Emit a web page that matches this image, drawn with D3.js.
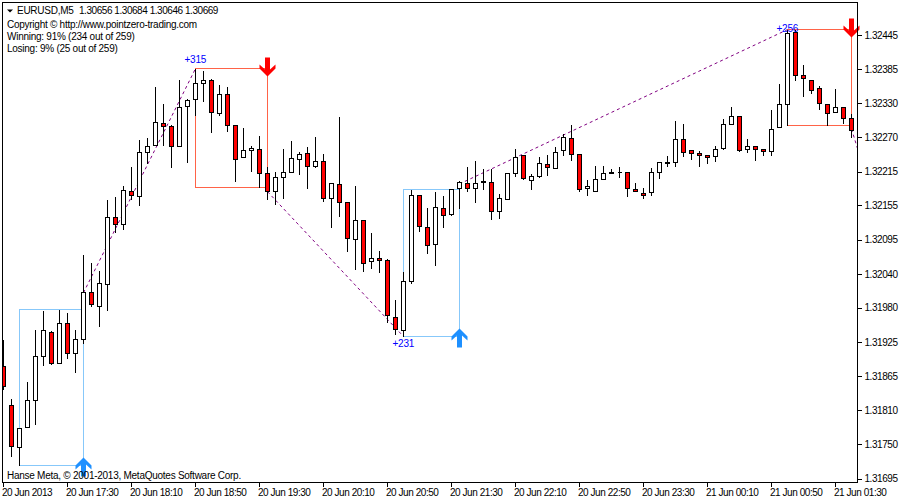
<!DOCTYPE html>
<html>
<head>
<meta charset="utf-8">
<script src="https://cdn.jsdelivr.net/npm/d3@7"></script>
<style>
  html, body { margin: 0; padding: 0; background: #fff; }
  svg { display: block; }
  text { font-family: "Liberation Sans", Arial, sans-serif; font-size: 10px; fill: #000; letter-spacing: -0.26px; }
  .tick text, .quote { letter-spacing: -0.45px; }
</style>
</head>
<body>
<div id="chart"></div>
<script>
// EURUSD M5 bars, one per 5 minutes
const opens = [
  1.31885,1.31819,1.31748,1.31782,1.31828,1.31902,1.31943,1.31890,1.31958,1.31907,
  1.31931,1.32010,1.31987,1.32024,1.32137,1.32125,1.32181,1.32173,1.32247,1.32259,
  1.32296,1.32291,1.32257,1.32325,1.32337,1.32364,1.32369,1.32313,1.32345,1.32293,
  1.32239,1.32251,1.32252,1.32212,1.32181,1.32205,1.32213,1.32235,1.32245,1.32223,
  1.32232,1.32169,1.32193,1.32163,1.32100,1.32132,1.32063,1.32068,1.32065,1.31968,
  1.31946,1.32029,1.32174,1.32120,1.32092,1.32152,1.32142,1.32186,1.32195,1.32186,
  1.32198,1.32196,1.32147,1.32168,1.32212,1.32242,1.32200,1.32206,1.32227,1.32220,
  1.32251,1.32271,1.32244,1.32186,1.32181,1.32201,1.32213,1.32213,1.32213,1.32185,
  1.32178,1.32180,1.32213,1.32230,1.32230,1.32269,1.32251,1.32245,1.32242,1.32240,
  1.32254,1.32294,1.32308,1.32252,1.32257,1.32252,1.32249,1.32289,1.32328,1.32450,
  1.32377,1.32369,1.32355,1.32328,1.32315,1.32323,1.32305
];
const closes = [
  1.31851,1.31750,1.31780,1.31828,1.31902,1.31946,1.31890,1.31958,1.31907,1.31931,
  1.32010,1.31990,1.32026,1.32137,1.32125,1.32183,1.32174,1.32247,1.32257,1.32298,
  1.32291,1.32257,1.32323,1.32335,1.32364,1.32369,1.32315,1.32345,1.32293,1.32235,
  1.32251,1.32254,1.32212,1.32181,1.32205,1.32213,1.32237,1.32244,1.32223,1.32232,
  1.32169,1.32195,1.32163,1.32102,1.32132,1.32059,1.32068,1.32065,1.31972,1.31948,
  1.32029,1.32174,1.32122,1.32090,1.32154,1.32141,1.32185,1.32196,1.32186,1.32195,
  1.32196,1.32147,1.32169,1.32212,1.32239,1.32203,1.32206,1.32228,1.32222,1.32247,
  1.32272,1.32244,1.32185,1.32190,1.32201,1.32212,1.32212,1.32213,1.32186,1.32181,
  1.32174,1.32213,1.32230,1.32228,1.32269,1.32247,1.32245,1.32242,1.32239,1.32252,
  1.32294,1.32308,1.32251,1.32257,1.32252,1.32249,1.32286,1.32328,1.32448,1.32377,
  1.32372,1.32352,1.32330,1.32313,1.32323,1.32305,1.32284
];
const highs = [
  1.31931,1.31831,1.31780,1.31860,1.31948,1.31980,1.31946,1.31982,1.31977,1.31948,
  1.32075,1.32061,1.32048,1.32168,1.32173,1.32191,1.32223,1.32269,1.32272,1.32359,
  1.32330,1.32294,1.32371,1.32338,1.32389,1.32386,1.32372,1.32362,1.32359,1.32294,
  1.32289,1.32259,1.32276,1.32223,1.32215,1.32254,1.32267,1.32249,1.32257,1.32274,
  1.32245,1.32195,1.32308,1.32163,1.32191,1.32132,1.32112,1.32081,1.32068,1.31998,
  1.32046,1.32185,1.32174,1.32154,1.32181,1.32174,1.32185,1.32200,1.32223,1.32234,
  1.32220,1.32220,1.32178,1.32213,1.32254,1.32242,1.32212,1.32240,1.32244,1.32257,
  1.32279,1.32294,1.32245,1.32201,1.32225,1.32225,1.32220,1.32223,1.32213,1.32196,
  1.32188,1.32222,1.32230,1.32242,1.32301,1.32296,1.32252,1.32251,1.32242,1.32259,
  1.32305,1.32325,1.32308,1.32271,1.32257,1.32254,1.32320,1.32364,1.32455,1.32455,
  1.32396,1.32369,1.32360,1.32328,1.32355,1.32323,1.32313
];
const lows = [
  1.31846,1.31733,1.31718,1.31782,1.31787,1.31887,1.31889,1.31890,1.31899,1.31875,
  1.31924,1.31987,1.31953,1.31980,1.32112,1.32117,1.32168,1.32157,1.32228,1.32259,
  1.32259,1.32222,1.32257,1.32230,1.32310,1.32333,1.32281,1.32310,1.32283,1.32198,
  1.32239,1.32215,1.32188,1.32168,1.32159,1.32169,1.32213,1.32210,1.32186,1.32222,
  1.32164,1.32120,1.32139,1.32080,1.32049,1.32046,1.32051,1.32044,1.31960,1.31939,
  1.31936,1.32026,1.32113,1.32076,1.32056,1.32120,1.32141,1.32152,1.32181,1.32163,
  1.32185,1.32134,1.32135,1.32168,1.32206,1.32201,1.32185,1.32205,1.32208,1.32220,
  1.32242,1.32234,1.32181,1.32174,1.32181,1.32201,1.32212,1.32205,1.32173,1.32181,
  1.32169,1.32174,1.32203,1.32223,1.32223,1.32240,1.32235,1.32223,1.32228,1.32232,
  1.32252,1.32294,1.32249,1.32247,1.32234,1.32242,1.32242,1.32289,1.32293,1.32369,
  1.32342,1.32347,1.32320,1.32293,1.32315,1.32296,1.32272
];

// trades: boxes run from the first bar to the last bar, arrow sits on the last one
const tradeStart = [2, 24, 50, 98];
const tradeEnd = [10, 33, 57, 106];
const tradeTop = [1.31982, 1.32389, 1.32185, 1.32455];
const tradeBottom = [1.31718, 1.32188, 1.31936, 1.32293];
const tradeSide = ['buy', 'sell', 'buy', 'sell'];

// purple dotted legs between trades
const legBars = [[10, 24], [33, 50], [57, 98], [106, 107]];
const legPrices = [[1.32010, 1.32389], [1.32181, 1.31936], [1.32194, 1.32455], [1.32287, 1.32243]];

const profitLabels = ['+315', '+231', '+256'];
const profitBars = [24, 50, 98];
const profitPrices = [1.32399, 1.31918, 1.32451];

const timeTickBars = [0, 8, 16, 24, 32, 40, 48, 56, 64, 72, 80, 88, 96, 104];
const timeTickLabels = ['20 Jun 2013', '20 Jun 17:30', '20 Jun 18:10', '20 Jun 18:50', '20 Jun 19:30',
  '20 Jun 20:10', '20 Jun 20:50', '20 Jun 21:30', '20 Jun 22:10', '20 Jun 22:50', '20 Jun 23:30',
  '21 Jun 00:10', '21 Jun 00:50', '21 Jun 01:30'];

// the terminal spaces its grid evenly and prints a rounded price
const priceTicks = [1.32445, 1.32387, 1.32330, 1.32272, 1.32214, 1.32157, 1.32099,
  1.32041, 1.31984, 1.31926, 1.31868, 1.31810, 1.31753, 1.31695];
const priceTickLabels = ['1.32445', '1.32385', '1.32330', '1.32270', '1.32215', '1.32155', '1.32095',
  '1.32040', '1.31980', '1.31925', '1.31865', '1.31810', '1.31750', '1.31695'];

const headerLines = ['Copyright © http://www.pointzero-trading.com', 'Winning: 91% (234 out of 259)', 'Losing: 9% (25 out of 259)'];

const width = 900, height = 500;
const frame = { left: 2.5, top: 2.5, right: 857.5, bottom: 482.5 };

const bars = opens.map((o, i) => ({ i, o, c: closes[i], h: highs[i], l: lows[i] }));

const x = d3.scaleLinear().domain([0, 106]).range([3.5, 851.5]);
const y = d3.scaleLinear().domain([1.31695, 1.32445]).range([479, 35.5]);
const snap = v => Math.floor(v) + 0.5;

const svg = d3.select('#chart').append('svg')
  .attr('width', width)
  .attr('height', height);

svg.append('rect').attr('width', width).attr('height', height).attr('fill', '#fff');

svg.append('clipPath').attr('id', 'plot').append('rect')
  .attr('x', frame.left).attr('y', frame.top)
  .attr('width', frame.right - frame.left).attr('height', frame.bottom - frame.top);

const plot = svg.append('g').attr('clip-path', 'url(#plot)');

// trade boxes
plot.selectAll('.trade')
  .data(tradeStart)
  .join('rect')
  .attr('class', 'trade')
  .attr('x', (d, i) => x(d))
  .attr('y', (d, i) => snap(y(tradeTop[i])))
  .attr('width', (d, i) => x(tradeEnd[i]) - x(d))
  .attr('height', (d, i) => snap(y(tradeBottom[i])) - snap(y(tradeTop[i])))
  .attr('fill', 'none')
  .attr('stroke', (d, i) => tradeSide[i] === 'buy' ? '#87c8fa' : '#ff6347')
  .attr('shape-rendering', 'crispEdges');

// dotted legs
const leg = d3.line().x(d => x(d[0])).y(d => y(d[1]));
plot.selectAll('.leg')
  .data(legBars)
  .join('path')
  .attr('class', 'leg')
  .attr('d', (d, i) => leg(d.map((b, k) => [b, legPrices[i][k]])))
  .attr('fill', 'none')
  .attr('stroke', '#800080')
  .attr('stroke-dasharray', '3,3');

// candles
const candles = plot.selectAll('.candle')
  .data(bars)
  .join('g')
  .attr('class', 'candle')
  .attr('shape-rendering', 'crispEdges');

candles.append('line')
  .attr('x1', d => x(d.i))
  .attr('x2', d => x(d.i))
  .attr('y1', d => snap(y(d.h)))
  .attr('y2', d => snap(y(d.l)) + 0.5)
  .attr('stroke', '#000');

candles.append('path')
  .attr('d', d => {
    const top = snap(y(Math.max(d.o, d.c)));
    const bottom = snap(y(Math.min(d.o, d.c)));
    const p = d3.path();
    p.rect(x(d.i) - 2, top, 4, bottom - top);
    return p.toString();
  })
  .attr('fill', d => d.c < d.o ? '#ff0000' : '#fff')
  .attr('stroke', '#000');

// trade arrows, tip 8px inside the box edge
const arrowShape = 'M0,0L8,8L8,12L2.5,7L2.5,19L-2.5,19L-2.5,7L-8,12L-8,8Z';
svg.selectAll('.arrow')
  .data(tradeEnd)
  .join('path')
  .attr('class', 'arrow')
  .attr('d', arrowShape)
  .attr('fill', (d, i) => tradeSide[i] === 'buy' ? '#1e90ff' : '#ff0000')
  .attr('transform', (d, i) => tradeSide[i] === 'buy'
    ? `translate(${x(d)},${snap(y(tradeBottom[i])) - 8})`
    : `translate(${x(d)},${snap(y(tradeTop[i])) + 8}) scale(1,-1)`);

svg.selectAll('.profit')
  .data(profitLabels)
  .join('text')
  .attr('class', 'profit')
  .attr('x', (d, i) => x(profitBars[i]) - 11)
  .attr('y', (d, i) => y(profitPrices[i]))
  .style('fill', '#0000ff')
  .text(d => d);

// frame
svg.append('rect')
  .attr('x', frame.left).attr('y', frame.top)
  .attr('width', frame.right - frame.left).attr('height', frame.bottom - frame.top)
  .attr('fill', 'none').attr('stroke', '#000').attr('shape-rendering', 'crispEdges');

// axes
const xAxis = svg.append('g')
  .attr('transform', `translate(0,${frame.bottom})`)
  .call(d3.axisBottom(x).tickValues(timeTickBars).tickFormat((d, i) => timeTickLabels[i]).tickSize(4).tickPadding(2).offset(0));
xAxis.select('.domain').remove();
xAxis.selectAll('text').attr('text-anchor', 'start').attr('dx', -1.5);

const yAxis = svg.append('g')
  .attr('transform', `translate(${frame.right},0)`)
  .call(d3.axisRight(y).tickValues(priceTicks).tickFormat((d, i) => priceTickLabels[i]).tickSize(4).tickPadding(3).offset(0));
yAxis.select('.domain').remove();

svg.selectAll('.tick line').attr('shape-rendering', 'crispEdges');

// header text
svg.append('path').attr('d', 'M7,9.5h6l-3,3z').attr('fill', '#000');
svg.append('text').attr('x', 17).attr('y', 14).text('EURUSD,M5');
svg.append('text').attr('class', 'quote').attr('x', 79).attr('y', 14).text('1.30656 1.30684 1.30646 1.30669');
svg.selectAll('.header')
  .data(headerLines)
  .join('text')
  .attr('class', 'header')
  .attr('x', 7)
  .attr('y', (d, i) => 27.5 + i * 12)
  .text(d => d);

svg.append('text').attr('x', 7).attr('y', 478.5).text('Hanse Meta, © 2001-2013, MetaQuotes Software Corp.');
</script>
</body>
</html>
